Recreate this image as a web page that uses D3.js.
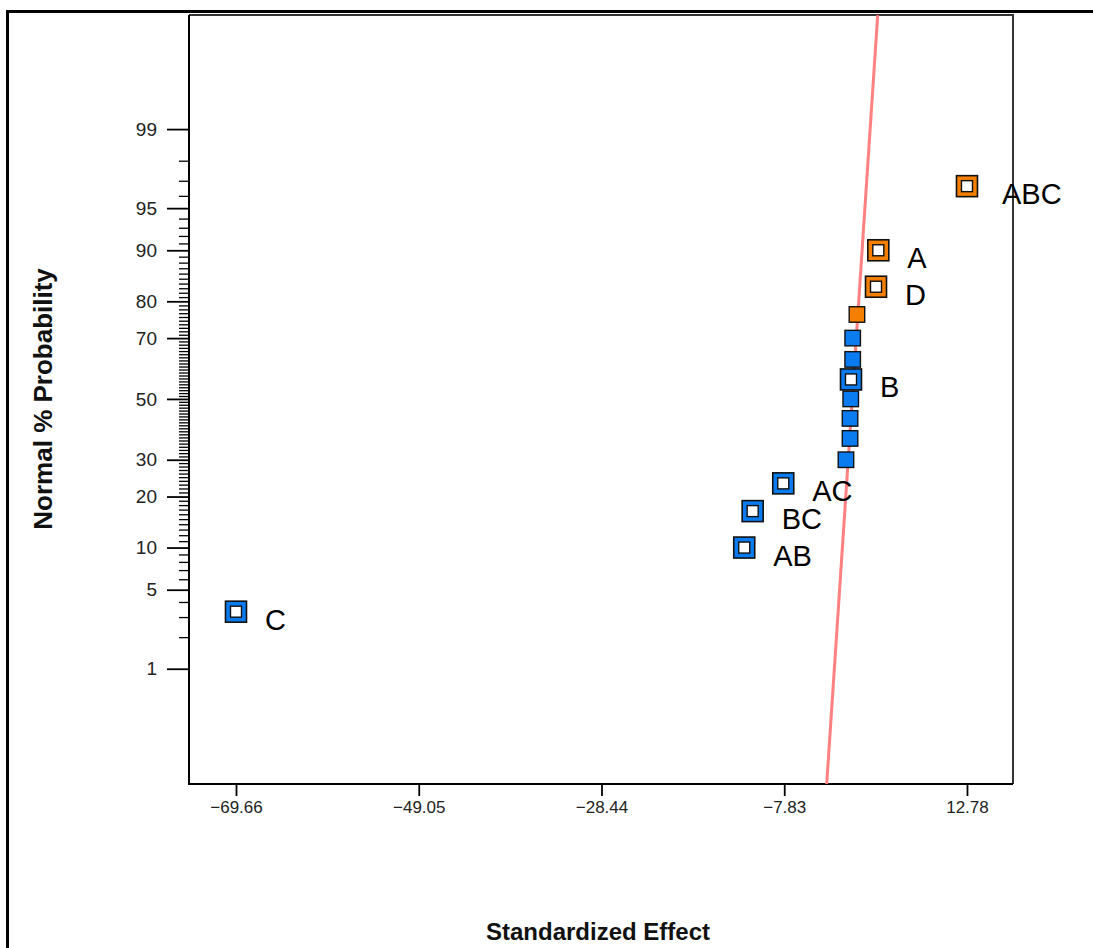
<!DOCTYPE html>
<html>
<head>
<meta charset="utf-8">
<script src="https://cdn.jsdelivr.net/npm/d3@7"></script>
<style>
  html, body { margin: 0; padding: 0; background: #fff; }
  svg { display: block; }
  text { font-family: Arial, "Liberation Sans", sans-serif; }
</style>
</head>
<body>
<svg id="chart" width="1093" height="948"></svg>
<script>
// ---- data ----
const termNames   = ["C", "AB", "BC", "AC", "", "", "", "", "B", "", "", "", "D", "A", "ABC"];
const effects     = [-69.66, -12.34, -11.39, -7.94, -0.87, -0.41, -0.41, -0.33, -0.30, -0.11, -0.11, 0.37, 2.52, 2.78, 12.78];
const probs       = [3.33, 10, 16.67, 23.33, 30, 36.67, 43.33, 50, 56.67, 63.33, 70, 76.67, 83.33, 90, 96.67];
const xTickValues = [-69.66, -49.05, -28.44, -7.83, 12.78];
const yTickValues = [1, 5, 10, 20, 30, 50, 70, 80, 90, 95, 99];
const lineEffect  = [-3.04, 2.71];
const linePercent = [0.045, 99.953];
const xTitle = "Standardized Effect";
const yTitle = "Normal % Probability";

// ---- layout ----
const L = 189, R = 1013, T = 15, B = 784;
const blue = "#0a7cf0", orange = "#f57f00";

// inverse normal CDF (Acklam)
function probit(p) {
  const a = [-3.969683028665376e+01, 2.209460984245205e+02, -2.759285104469687e+02, 1.383577518672690e+02, -3.066479806614716e+01, 2.506628277459239e+00];
  const b = [-5.447609879822406e+01, 1.615858368580409e+02, -1.556989798598866e+02, 6.680131188771972e+01, -1.328068155288572e+01];
  const c = [-7.784894002430293e-03, -3.223964580411365e-01, -2.400758277161838e+00, -2.549732539343734e+00, 4.374664141464968e+00, 2.938163982698783e+00];
  const d = [7.784695709041462e-03, 3.224671290700398e-01, 2.445134137142996e+00, 3.754408661907416e+00];
  const pl = 0.02425, ph = 1 - pl;
  let q, r;
  if (p < pl) { q = Math.sqrt(-2 * Math.log(p)); return (((((c[0]*q+c[1])*q+c[2])*q+c[3])*q+c[4])*q+c[5]) / ((((d[0]*q+d[1])*q+d[2])*q+d[3])*q+1); }
  if (p <= ph) { q = p - 0.5; r = q*q; return (((((a[0]*r+a[1])*r+a[2])*r+a[3])*r+a[4])*r+a[5])*q / (((((b[0]*r+b[1])*r+b[2])*r+b[3])*r+b[4])*r+1); }
  q = Math.sqrt(-2 * Math.log(1 - p)); return -(((((c[0]*q+c[1])*q+c[2])*q+c[3])*q+c[4])*q+c[5]) / ((((d[0]*q+d[1])*q+d[2])*q+d[3])*q+1);
}

const x = d3.scaleLinear().domain([-74.96, 17.97]).range([L, R]);
const z = d3.scaleLinear().domain([-3.32, 3.31]).range([B, T]);
function y(pct) { return z(probit(pct / 100)); }
y.copy = () => y;
y.range = () => [B, T];
y.domain = () => [0.045, 99.955];

const svg = d3.select("#chart");

// outer frame
svg.append("path").attr("d", "M7.5,948 V11.5 H1093").attr("fill", "none")
  .attr("stroke", "#000").attr("stroke-width", 3);

// minor y ticks
const minorVals = d3.range(1, 100).filter(v => !yTickValues.includes(v));
svg.append("g").attr("transform", `translate(${L},0)`)
  .call(d3.axisLeft(y).tickValues(minorVals).tickSize(10).tickFormat(""))
  .call(g => g.select(".domain").remove())
  .call(g => g.selectAll("line").attr("stroke", "#000").attr("stroke-width", 1.3));

// major y ticks
svg.append("g").attr("transform", `translate(${L},0)`)
  .call(d3.axisLeft(y).tickValues(yTickValues).tickSize(22).tickPadding(10).tickFormat(d3.format("d")))
  .call(g => g.select(".domain").remove())
  .call(g => g.selectAll("line").attr("stroke", "#000").attr("stroke-width", 1.8))
  .call(g => g.selectAll("text").attr("font-size", 19).attr("fill", "#222")
    .attr("font-family", "Arial, 'Liberation Sans', sans-serif"));

// x ticks
svg.append("g").attr("transform", `translate(0,${B})`)
  .call(d3.axisBottom(x).tickValues(xTickValues).tickSize(12).tickPadding(5).tickFormat(d3.format(".2f")))
  .call(g => g.select(".domain").remove())
  .call(g => g.selectAll("line").attr("stroke", "#000").attr("stroke-width", 1.8))
  .call(g => g.selectAll("text").attr("font-size", 17).attr("fill", "#222")
    .attr("font-family", "Arial, 'Liberation Sans', sans-serif"));

// plot box
svg.append("path").attr("d", `M${L},${T} H${R} V${B}`).attr("fill", "none")
  .attr("stroke", "#333").attr("stroke-width", 2);
svg.append("path").attr("d", `M${L},${T} V${B} H${R}`).attr("fill", "none")
  .attr("stroke", "#000").attr("stroke-width", 2);

// clip
svg.append("clipPath").attr("id", "clip").append("rect")
  .attr("x", L).attr("y", T).attr("width", R - L).attr("height", B - T);

// fitted line
svg.append("path")
  .datum(lineEffect.map((e, i) => [e, linePercent[i]]))
  .attr("clip-path", "url(#clip)")
  .attr("fill", "none").attr("stroke", "#ff8080").attr("stroke-width", 3)
  .attr("d", d3.line().x(d => x(d[0])).y(d => y(d[1])));

// points
const pts = effects.map((e, i) => ({ e, p: probs[i], name: termNames[i] }));
const gp = svg.append("g");
pts.forEach(d => {
  const cx = x(d.e), cy = y(d.p);
  const col = d.e < 0 ? blue : orange;
  if (d.name) {
    gp.append("rect").attr("x", cx - 10.5).attr("y", cy - 10.5).attr("width", 21).attr("height", 21)
      .attr("fill", col).attr("stroke", "#111").attr("stroke-width", 1.6);
    gp.append("rect").attr("x", cx - 5.5).attr("y", cy - 5.5).attr("width", 11).attr("height", 11)
      .attr("fill", "#fff").attr("stroke", "#111").attr("stroke-width", 1.4);
  } else {
    gp.append("rect").attr("x", cx - 7.75).attr("y", cy - 7.75).attr("width", 15.5).attr("height", 15.5)
      .attr("fill", col).attr("stroke", "#111").attr("stroke-width", 1.4);
  }
});

// labels
svg.append("g").selectAll("text").data(pts.filter(d => d.name)).join("text")
  .attr("x", d => x(d.e) + (d.name.length > 2 ? 35 : 29))
  .attr("y", d => y(d.p) + 18)
  .attr("font-size", 29).attr("fill", "#000")
  .text(d => d.name);

// axis titles
svg.append("text").attr("x", (L + R) / 2 - 3).attr("y", 940).attr("text-anchor", "middle")
  .attr("font-size", 24).attr("font-weight", "bold").attr("fill", "#111").text(xTitle);
svg.append("text").attr("transform", `translate(52,${z(0)}) rotate(-90)`).attr("text-anchor", "middle")
  .attr("font-size", 26).attr("font-weight", "bold").attr("fill", "#111").text(yTitle);
</script>
</body>
</html>
